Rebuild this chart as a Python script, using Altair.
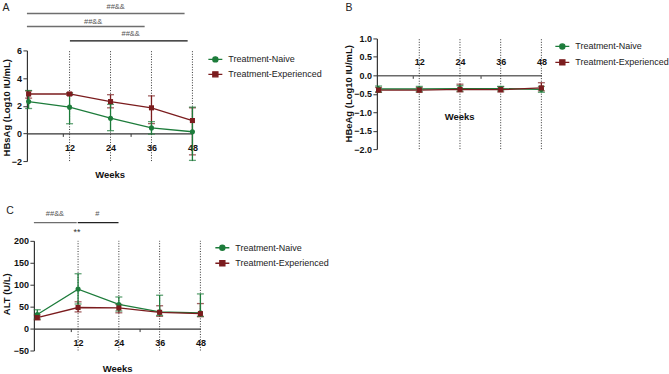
import altair as alt
import pandas as pd

# ---------------- data ----------------
weeks = [0, 12, 24, 36, 48]
groups = ["Treatment-Naive", "Treatment-Experienced"]

# HBsAg (Log10 IU/mL): mean with lower / upper error
hbsag_naive = [2.30, 1.90, 1.10, 0.40, 0.12]
hbsag_naive_low = [1.80, 0.70, 0.20, -0.05, -1.95]
hbsag_naive_high = [3.10, 2.90, 2.10, 0.85, 1.90]
hbsag_exp = [2.85, 2.85, 2.30, 1.85, 0.93]
hbsag_exp_low = [2.55, 2.75, 1.85, 0.70, -1.55]
hbsag_exp_high = [3.08, 2.95, 2.80, 2.72, 1.85]

# HBeAg (Log10 IU/mL)
hbeag_naive = [-0.37, -0.37, -0.36, -0.36, -0.38]
hbeag_naive_low = [-0.45, -0.44, -0.43, -0.42, -0.46]
hbeag_naive_high = [-0.29, -0.30, -0.28, -0.30, -0.30]
hbeag_exp = [-0.40, -0.40, -0.38, -0.39, -0.34]
hbeag_exp_low = [-0.46, -0.46, -0.45, -0.45, -0.42]
hbeag_exp_high = [-0.33, -0.33, -0.24, -0.31, -0.20]

# ALT (U/L)
alt_naive = [32, 90, 55, 38, 36]
alt_naive_low = [22, 56, 40, 30, 28]
alt_naive_high = [43, 125, 72, 76, 79]
alt_exp = [25, 48, 47, 37, 34]
alt_exp_low = [20, 38, 36, 28, 27]
alt_exp_high = [31, 61, 55, 52, 57]

guide_weeks = [12, 24, 36, 48]
minor_weeks = [10, 30]

# significance brackets: (from week, to week, label)
hbsag_brackets = [(-0.5, 45.7, "##&&"), (-0.5, 34.0, "##&&"), (12.1, 46.6, "##&&")]
alt_brackets = [(-1.0, 11.6, "##&&"), (11.9, 23.9, "#")]

# ---------------- styling ----------------
GREEN = "#1d7c3b"
RED = "#7b1c1e"
FONT = "Liberation Sans"
INK = "#111111"

CIRCLE_PATH = "M-1,0H1M0.36,0A0.36,0.36,0,1,1,-0.36,0A0.36,0.36,0,1,1,0.36,0Z"
SQUARE_PATH = "M-1,0H1M-0.36,-0.36H0.36V0.36H-0.36Z"


def table(nm, nl, nh, em, el, eh):
    rows = []
    for g, m, lo, hi in ((groups[0], nm, nl, nh), (groups[1], em, el, eh)):
        for w, a, b, c in zip(weeks, m, lo, hi):
            rows.append({"week": w, "group": g, "mean": a, "lo": b, "hi": c})
    return pd.DataFrame(rows)


def x_axis(offset, label_pad, title_y, domain_color="#333", domain_width=1.2):
    return alt.Axis(
        values=sorted(guide_weeks + minor_weeks),
        labelExpr="datum.value % 12 === 0 ? datum.label : ''",
        tickOpacity={"condition": {"test": "datum.value % 12 === 0", "value": 0}, "value": 1},
        tickSize=3, tickWidth=1, tickColor="#333",
        domainColor=domain_color, domainWidth=domain_width,
        offset=offset, labelPadding=label_pad, labelBaseline="middle",
        labelFlush=False, labelOverlap=False,
        labelFont=FONT, labelFontSize=9, labelFontWeight="bold", labelColor=INK,
        title="Weeks", titleFont=FONT, titleFontSize=9.5, titleFontWeight="bold",
        titleColor=INK, titleY=title_y, titleBaseline="middle", grid=False,
    )


def y_axis(values, title, title_x, title_y, fmt=None, offset=0):
    kw = dict(
        values=values, tickSize=4, tickWidth=1, tickColor="#333",
        domainColor="#333", domainWidth=1.2, labelPadding=1.5,
        labelFlush=False, labelFont=FONT, labelFontSize=9, labelFontWeight="bold",
        labelColor=INK, title=title, titleFont=FONT, titleFontSize=9.5,
        titleFontWeight="bold", titleColor=INK, titleAngle=270,
        titleX=title_x, titleY=title_y, titleBaseline="middle", titleAlign="center",
        grid=False, offset=offset,
    )
    if fmt:
        kw["format"] = fmt
    return alt.Axis(**kw)


def panel(df, *, width, height, xdomain, xrange, ydomain, yrange, xaxis, yaxis,
          legend_xy, row_pad, label, label_xy, brackets=(), notes=(), extra=()):
    xs = alt.Scale(domain=xdomain, range=xrange, nice=False, zero=False)
    ys_kw = dict(domain=ydomain, nice=False, zero=False)
    if yrange:
        ys_kw["range"] = yrange
    ys = alt.Scale(**ys_kw)

    # every layer carries the same scale and axis so they merge cleanly
    def X(f):
        return alt.X(f, type="quantitative", scale=xs, axis=xaxis)

    def Y(f):
        return alt.Y(f, type="quantitative", scale=ys, axis=yaxis)

    n = len(guide_weeks)
    guides = alt.Chart(pd.DataFrame({
        "week": guide_weeks, "y0": [ydomain[0]] * n, "y1": [ydomain[1]] * n,
    })).mark_rule(color="#333", strokeDash=[1, 1.6], strokeWidth=1).encode(
        x=X("week"), y=Y("y0"), y2="y1")

    layers = [guides]
    base = alt.Chart(df)
    naive = base.transform_filter(alt.datum.group == groups[0])
    exp = base.transform_filter(alt.datum.group == groups[1])

    for sub, col in ((exp, RED), (naive, GREEN)):
        layers.append(sub.mark_rule(color=col, strokeWidth=1.3).encode(
            x=X("week"), y=Y("lo"), y2="hi"))
        layers.append(sub.transform_fold(["lo", "hi"], as_=["end", "val"]).mark_tick(
            orient="horizontal", size=7, thickness=1.3, color=col).encode(
            x=X("week"), y=Y("val")))
    for sub, col in ((naive, GREEN), (exp, RED)):
        layers.append(sub.mark_line(color=col, strokeWidth=1.3).encode(
            x=X("week"), y=Y("mean")))
    layers.append(naive.mark_point(shape="circle", filled=True, size=26, color=GREEN,
                                   opacity=1).encode(x=X("week"), y=Y("mean")))
    layers.append(exp.mark_point(shape="square", filled=True, size=26, color=RED,
                                 opacity=1).encode(x=X("week"), y=Y("mean")))

    lg = alt.Legend(
        orient="none", legendX=legend_xy[0], legendY=legend_xy[1], title=None,
        symbolSize=196, symbolStrokeWidth=1.4, symbolOpacity=1, padding=0,
        labelFont=FONT, labelFontSize=9, labelColor="#222", labelOffset=5,
        rowPadding=row_pad,
    )
    leg_df = pd.DataFrame({"group": groups, "week": [weeks[0]] * 2,
                           "mean": [ydomain[0]] * 2})
    layers.append(alt.Chart(leg_df).mark_point(opacity=0, filled=True).encode(
        x=X("week"), y=Y("mean"),
        fill=alt.Fill("group:N", scale=alt.Scale(domain=groups, range=[GREEN, RED]), legend=lg),
        stroke=alt.Stroke("group:N", scale=alt.Scale(domain=groups, range=[GREEN, RED]), legend=lg),
        shape=alt.Shape("group:N", scale=alt.Scale(domain=groups, range=[CIRCLE_PATH, SQUARE_PATH]), legend=lg),
    ))

    # significance brackets with their labels
    for (x0, x1, text), (line_y, text_w, text_y, col) in brackets:
        layers.append(alt.Chart(pd.DataFrame({"week": [x0], "x1": [x1]})).mark_rule(
            color=col, strokeWidth=1.3).encode(x=X("week"), x2="x1", y=alt.value(line_y)))
        layers.append(alt.Chart(pd.DataFrame({"week": [text_w], "t": [text]})).mark_text(
            font=FONT, fontSize=7.5, color="#555", baseline="middle").encode(
            x=X("week"), y=alt.value(text_y), text="t:N"))
    for (w, text, ty, size) in notes:
        layers.append(alt.Chart(pd.DataFrame({"week": [w], "t": [text]})).mark_text(
            font=FONT, fontSize=size, color="#333", baseline="middle").encode(
            x=X("week"), y=alt.value(ty), text="t:N"))

    layers.append(alt.Chart(pd.DataFrame({"t": [label]})).mark_text(
        font=FONT, fontSize=10.5, color="#222", baseline="middle", align="center").encode(
        x=alt.value(label_xy[0]), y=alt.value(label_xy[1]), text="t:N"))
    layers.extend(extra)

    return alt.layer(*layers).properties(width=width, height=height)


# top-left corner marker so the layout starts at the page origin
corner = alt.Chart(pd.DataFrame({"k": [0]})).mark_rule(opacity=0, strokeWidth=0).encode(
    x=alt.value(-27), x2=alt.value(-27), y=alt.value(-38), y2=alt.value(-37))

panel_a = panel(
    table(hbsag_naive, hbsag_naive_low, hbsag_naive_high, hbsag_exp, hbsag_exp_low, hbsag_exp_high),
    width=174, height=123, xdomain=[-0.5, 48], xrange=[0, 166],
    ydomain=[-2, 6], yrange=[123, 12],
    xaxis=x_axis(-27.75, 10.75, 40.75),
    yaxis=y_axis([-2, 0, 2, 4, 6], "HBsAg (Log10 IU/mL)", -20, 69),
    legend_xy=(181, 13), row_pad=1, label="A", label_xy=(-21, -31),
    brackets=[
        (hbsag_brackets[0], (-25, 25.5, -32, "#6e6e6e")),
        (hbsag_brackets[1], (-12, 18.9, -16.5, "#6e6e6e")),
        (hbsag_brackets[2], (2.5, 29.9, -4.8, "#111111")),
    ],
    extra=[corner],
)

panel_b = panel(
    table(hbeag_naive, hbeag_naive_low, hbeag_naive_high, hbeag_exp, hbeag_exp_low, hbeag_exp_high),
    width=165, height=111, xdomain=[-0.5, 48], xrange=[0, 165],
    ydomain=[-2, 1], yrange=None,
    xaxis=x_axis(-74, -16.7, 41.7, domain_color="#6a6a6a", domain_width=1.5),
    yaxis=y_axis([-2, -1.5, -1, -0.5, 0, 0.5, 1], "HBeAg (Log10 IU/mL)", -28, 55, fmt=".1f"),
    legend_xy=(178, 0), row_pad=2, label="B", label_xy=(-28, -31),
)

panel_c = panel(
    table(alt_naive, alt_naive_low, alt_naive_high, alt_exp, alt_exp_low, alt_exp_high),
    width=174, height=110, xdomain=[-1, 48], xrange=[7, 174],
    ydomain=[-50, 200], yrange=None,
    xaxis=x_axis(-22, 11.3, 40.3),
    yaxis=y_axis([-50, 0, 50, 100, 150, 200], "ALT (U/L)", -27, 53, offset=-7),
    legend_xy=(188, -1), row_pad=1.5, label="C", label_xy=(-17, -30),
    brackets=[
        (alt_brackets[0], (-18.3, 5.2, -27, "#6e6e6e")),
        (alt_brackets[1], (-18.3, 17.7, -27, "#222222")),
    ],
    notes=[(11.7, "**", -9.3, 9)],
)

chart = alt.concat(
    panel_a, panel_b, panel_c, columns=2, spacing={"row": 80, "column": 177},
).resolve_scale(
    x="independent", y="independent", fill="independent", stroke="independent",
    shape="independent",
).resolve_legend(
    fill="independent", stroke="independent", shape="independent",
).properties(
    padding=0, bounds="flush", background="white",
).configure_view(stroke=None)

chart.save("out.html", embed_options={"renderer": "svg", "actions": False})
